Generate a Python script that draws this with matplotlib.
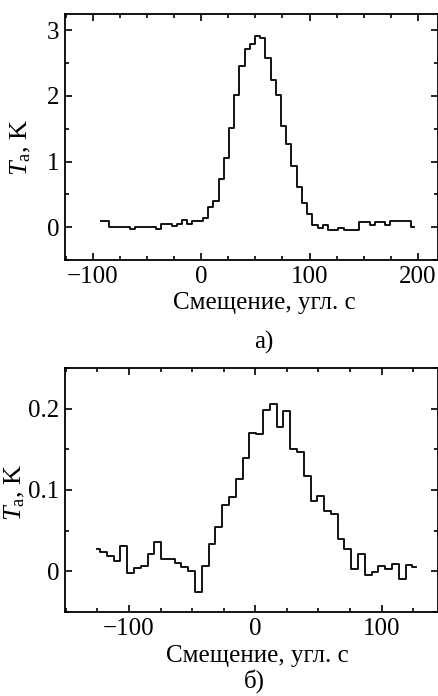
import numpy as np
import matplotlib
matplotlib.use("Agg")
import matplotlib.pyplot as plt
from matplotlib.ticker import MultipleLocator

plt.rcParams['font.family'] = ['Liberation Serif', 'DejaVu Serif']
plt.rcParams['mathtext.fontset'] = 'custom'
plt.rcParams['mathtext.rm'] = 'Liberation Serif'
plt.rcParams['mathtext.it'] = 'Liberation Serif:italic'

# Panel a: offset (arcsec) grid and antenna temperature (K)
x_a_start, x_a_end = -92.3, 196.4
t_a = [0.09, 0.09, 0.0, 0.0, 0.0, 0.0, -0.03, 0.0, 0.0, 0.01,
       0.01, -0.03, 0.056, 0.056, 0.015, 0.056, 0.107, 0.056, 0.10, 0.10,
       0.14, 0.31, 0.40, 0.74, 1.06, 1.51, 2.02, 2.45, 2.71, 2.80,
       2.92, 2.88, 2.58, 2.24, 2.02, 1.55, 1.27, 0.93, 0.62, 0.37,
       0.20, 0.03, -0.01, 0.026, -0.04, -0.04, -0.01, -0.04, -0.04, -0.04,
       0.077, 0.077, 0.04, 0.077, 0.077, 0.04, 0.087, 0.087, 0.087, 0.087,
       0.0]

# Panel b
x_b_start, x_b_end = -125.6, 127.0
t_b = [0.0276, 0.024, 0.019, 0.013, 0.031, -0.002, 0.004, 0.007, 0.021, 0.0365,
       0.015, 0.015, 0.010, 0.005, 0.001, -0.0255, 0.006, 0.034, 0.055, 0.081,
       0.091, 0.114, 0.139, 0.170, 0.169, 0.198, 0.206, 0.178, 0.197, 0.151,
       0.147, 0.117, 0.087, 0.0925, 0.074, 0.070, 0.040, 0.028, 0.003, 0.021,
       -0.004, -0.001, 0.006, 0.003, 0.009, -0.010, 0.0073, 0.005]

xlabel = 'Смещение, угл. с'
ylabel = r'$T_{\mathrm{a}}$, K'

W, H = 438, 696
fig = plt.figure(figsize=(W/100, H/100), dpi=100)

def px_axes(left, top, right, bottom):
    return fig.add_axes([left/W, 1-bottom/H, (right-left)/W, (bottom-top)/H])

ax1 = px_axes(65, 14, 437.5, 260)
ax2 = px_axes(65, 368, 437.5, 612)

xa = np.linspace(x_a_start, x_a_end, len(t_a))
xb = np.linspace(x_b_start, x_b_end, len(t_b))

ax1.step(xa, t_a, where='mid', color='black', lw=1.3)
ax2.step(xb, t_b, where='mid', color='black', lw=1.3)

ax1.set_xlim(-125.8, 218.2)
ax1.set_ylim(-0.5, 3.25)
ax1.xaxis.set_major_locator(MultipleLocator(100))
ax1.xaxis.set_minor_locator(MultipleLocator(25))
ax1.yaxis.set_major_locator(MultipleLocator(1))
ax1.yaxis.set_minor_locator(MultipleLocator(0.5))

ax2.set_xlim(-150.6, 144.2)
ax2.set_ylim(-0.05, 0.25)
ax2.xaxis.set_major_locator(MultipleLocator(100))
ax2.xaxis.set_minor_locator(MultipleLocator(25))
ax2.yaxis.set_major_locator(MultipleLocator(0.1))
ax2.yaxis.set_minor_locator(MultipleLocator(0.05))
ax2.yaxis.set_major_formatter(matplotlib.ticker.FuncFormatter(
    lambda v, p: '0' if abs(v) < 1e-9 else f'{v:.1f}'))

for ax in (ax1, ax2):
    for s in ax.spines.values():
        s.set_linewidth(1.3)
    ax.tick_params(which='both', direction='in', top=True, right=True,
                   labelsize=18, width=1.2)
    ax.tick_params(which='major', length=5, pad=4)
    ax.tick_params(which='minor', length=3)
    ax.set_xlabel(xlabel, fontsize=18)
    ax.set_ylabel(ylabel, fontsize=19)

ax1.xaxis.set_label_coords(0.534, -0.13)
ax1.yaxis.set_label_coords(-0.085, 0.46)
ax2.xaxis.set_label_coords(0.517, -0.135)
ax2.yaxis.set_label_coords(-0.102, 0.49)

fig.text(264/W, 1-342/H, 'а)', ha='center', va='center', fontsize=18)
fig.text(254/W, 1-681/H, 'б)', ha='center', va='center', fontsize=18)

fig.savefig('out.png', dpi=100)
